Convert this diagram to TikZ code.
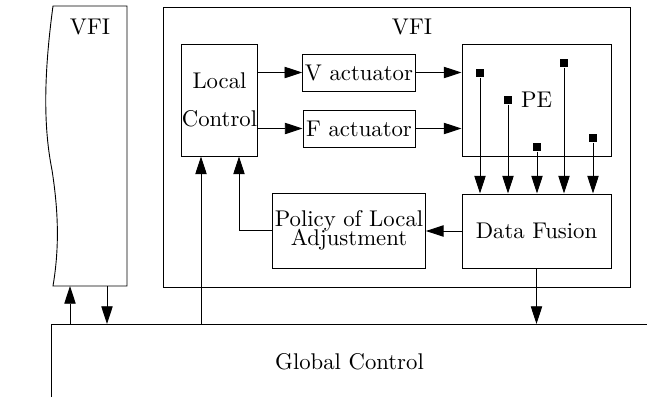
\documentclass[tikz,border=0pt]{standalone}
\usepackage{tikz}
\usetikzlibrary{arrows.meta, positioning, calc}

\tikzset{
  box/.style={draw, rectangle, inner sep=1pt, align=center},
  port/.style={fill=black, rectangle, inner sep=0pt, minimum size=3.6pt},
  arr/.style={-{Triangle[length=7.8pt, width=5pt]}},
}

\begin{document}
\begin{tikzpicture}[x=0.44pt, y=-0.44pt]
  \useasboundingbox (0,0) rectangle (647,397);

  % left VFI (cut off)
  \coordinate (lt) at (53,6);
  \coordinate (lb) at (53,286);
  \coordinate (rt) at (127,6);
  \coordinate (rb) at (127,286);
  \draw (lt) .. controls (43,80) and (44,130) .. (52,170)
             .. controls (59,215) and (59,250) .. (lb) -- (rb) -- (rt) -- cycle;
  \node (vfil) at (90,27) {VFI};

  % right VFI
  \node[box, minimum width=205.5pt, minimum height=123.2pt] (vfi) at (396.5,147) {};
  \node (vfilab) at (412,27) {VFI};

  \node[box, inner sep=0pt, minimum width=33pt, minimum height=49.3pt] (lc) at (219.5,100) {Local\\[5pt]Control};
  \node[box, minimum width=49.3pt, minimum height=16.3pt] (va) at (359,72.5) {V actuator};
  \node[box, minimum width=49.3pt, minimum height=16.3pt] (fa) at (359,128.5) {F actuator};
  \node[box, minimum width=65.6pt, minimum height=49.3pt] (pe) at (536.5,100) {PE};
  \node[box, minimum width=65.6pt, minimum height=32.6pt] (df) at (536.5,231) {Data Fusion};
  \node[box, minimum width=64.2pt, minimum height=33pt] (pol) at (349,230.5) {Policy of Local\\[-3.5pt]Adjustment};

  % sensors in PE
  \node[port] (s1) at (480,73) {};
  \node[port] (s2) at (508,100) {};
  \node[port] (s3) at (537,147) {};
  \node[port] (s4) at (564,63) {};
  \node[port] (s5) at (593,138) {};
  \foreach \s in {s1,s2,s3,s4,s5}
    \draw[arr] (\s) -- (\s |- df.north);

  \draw[arr] (lc.east |- va) -- (va);
  \draw[arr] (lc.east |- fa) -- (fa);
  \draw[arr] (va) -- (va -| pe.west);
  \draw[arr] (fa) -- (fa -| pe.west);
  \draw[arr] (df.west) -- (df.west -| pol.east);
  \coordinate (fb) at (239,230.5);
  \draw[arr] (pol.west) -- (fb) -- (fb |- lc.south);

  % global control
  \coordinate (gl) at (51,324);
  \coordinate (gr) at (647,324);
  \draw (51,397) -- (gl) -- (gr);
  \node (gc) at (349.5,362) {Global Control};

  \coordinate (g1) at (70,324);
  \coordinate (g2) at (107,324);
  \coordinate (g3) at (201,324);
  \draw[arr] (g3) -- (g3 |- lc.south);
  \draw[arr] (df) -- (df |- gl);
  \draw[arr] (g1) -- (g1 |- lb);
  \draw[arr] (g2 |- lb) -- (g2);
\end{tikzpicture}
\end{document}
